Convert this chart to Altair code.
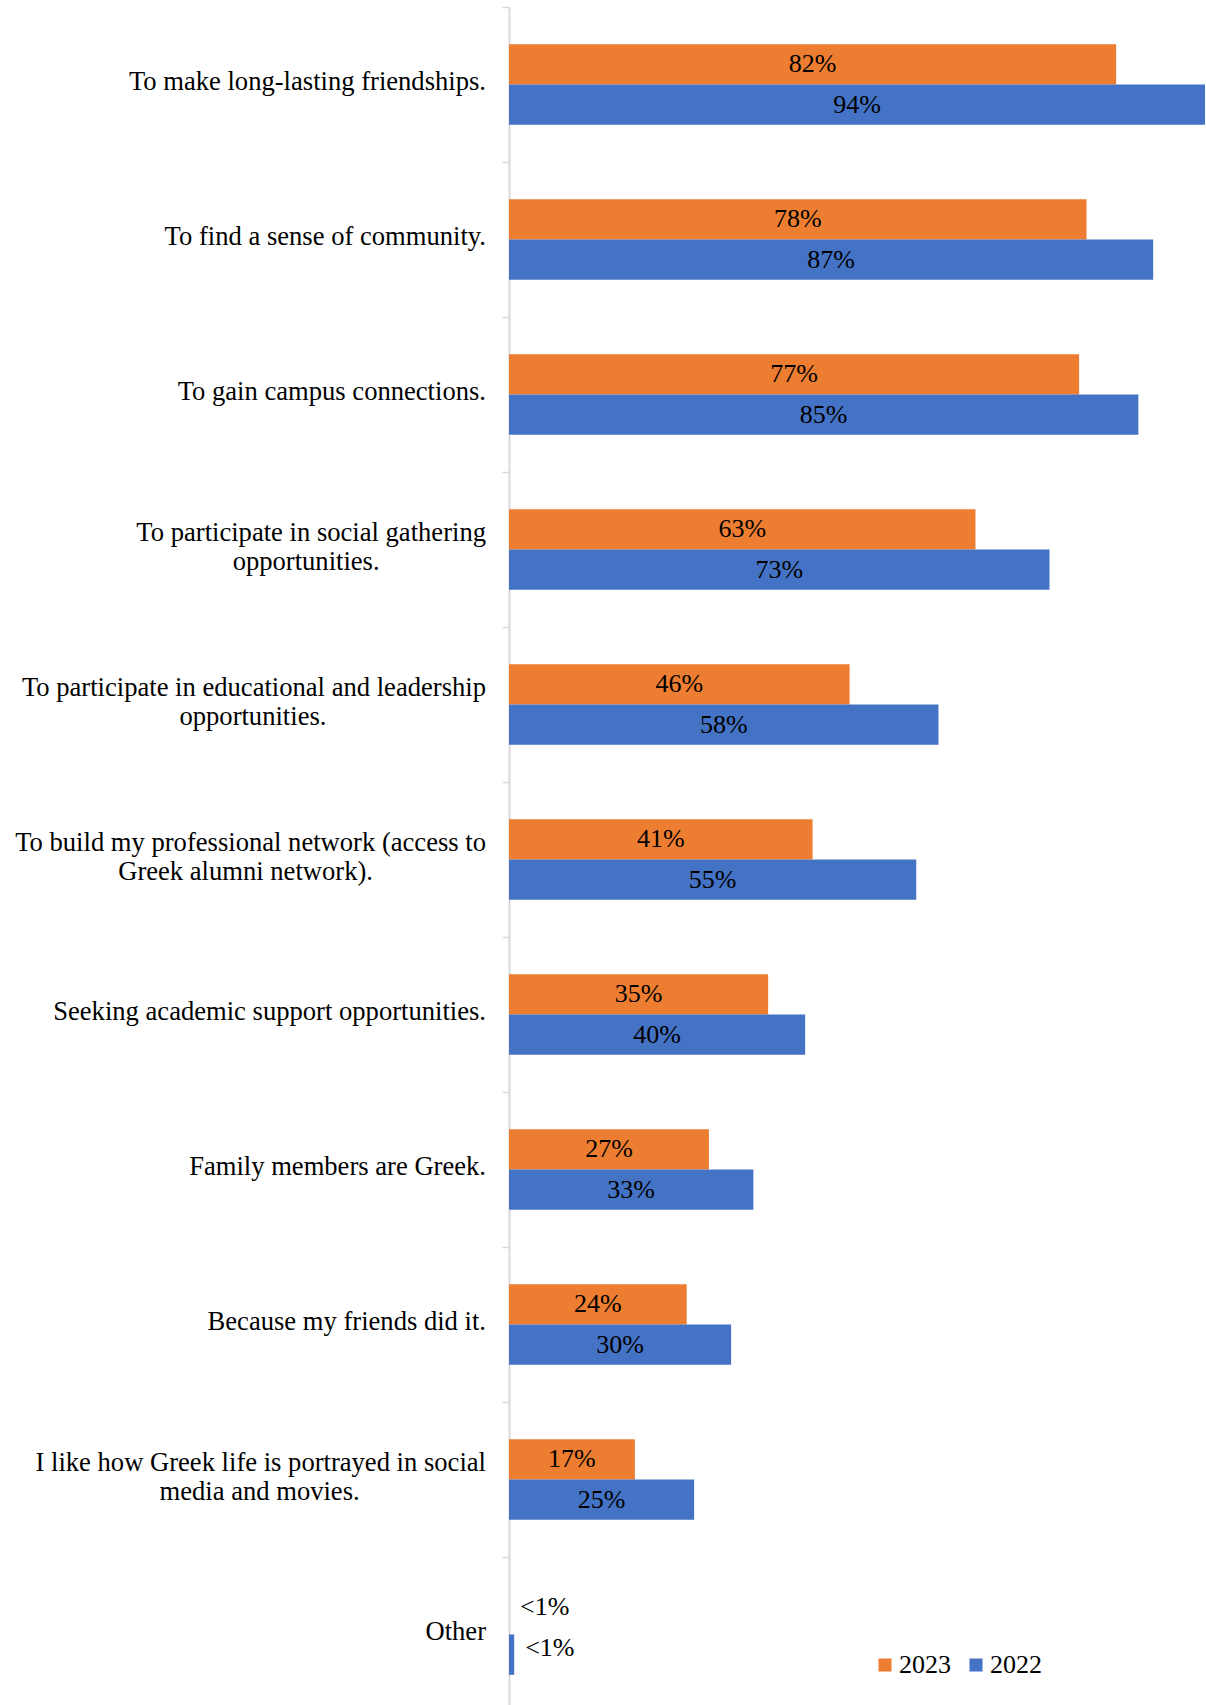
import altair as alt
import pandas as pd

categories = [
    "To make long-lasting friendships.",
    "To find a sense of community.",
    "To gain campus connections.",
    "To participate in social gathering opportunities.",
    "To participate in educational and leadership opportunities.",
    "To build my professional network (access to Greek alumni network).",
    "Seeking academic support opportunities.",
    "Family members are Greek.",
    "Because my friends did it.",
    "I like how Greek life is portrayed in social media and movies.",
    "Other",
]
values_2023 = [82, 78, 77, 63, 46, 41, 35, 27, 24, 17, 0]
values_2022 = [94, 87, 85, 73, 58, 55, 40, 33, 30, 25, 0.7]
labels_2023 = ["82%", "78%", "77%", "63%", "46%", "41%", "35%", "27%", "24%", "17%", "<1%"]
labels_2022 = ["94%", "87%", "85%", "73%", "58%", "55%", "40%", "33%", "30%", "25%", "<1%"]
years = ["2023", "2022"]
colors = ["#ED7D31", "#4472C4"]

# line breaks for the category labels (second line centred under the first)
line_splits = {
    "To participate in social gathering opportunities.": ("To participate in social gathering", "opportunities.", 16),
    "To participate in educational and leadership opportunities.": ("To participate in educational and leadership", "opportunities.", 24),
    "To build my professional network (access to Greek alumni network).": ("To build my professional network (access to", "Greek alumni network).", 17),
    "I like how Greek life is portrayed in social media and movies.": ("I like how Greek life is portrayed in social", "media and movies.", 19),
}

def display(c):
    if c in line_splits:
        a, b, pad = line_splits[c]
        return a + "|" + b + "\u00a0" * pad + "\u200b"
    return c

disp = [display(c) for c in categories]

rows = []
for i, c in enumerate(categories):
    rows.append({"cat": disp[i], "year": "2023", "value": values_2023[i], "label": labels_2023[i], "other": c == "Other"})
    rows.append({"cat": disp[i], "year": "2022", "value": values_2022[i], "label": labels_2022[i], "other": c == "Other"})
df = pd.DataFrame(rows)
cat_df = pd.DataFrame({"cat": disp, "multi": [c in line_splits for c in categories]})

FONT = "Liberation Serif"

y_scale = alt.Scale(paddingInner=0, paddingOuter=0)
y_enc = alt.Y(
    "cat:N",
    sort=disp,
    title=None,
    scale=y_scale,
    axis=alt.Axis(
        labels=False,
        tickBand="extent",
        tickSize=7,
        tickColor="#d9d9d9",
        tickWidth=1.5,
        domainColor="#d9d9d9",
        domainWidth=2,
        grid=False,
    ),
)
yoff_scale = alt.Scale(domain=years, paddingInner=0, paddingOuter=0.923)
x_scale = alt.Scale(domain=[0, 94], nice=False, zero=True)

bars = alt.Chart(df).mark_bar().encode(
    x=alt.X("value:Q", scale=x_scale, axis=None),
    y=y_enc,
    yOffset=alt.YOffset("year:N", sort=years, scale=yoff_scale),
    color=alt.Color(
        "year:N",
        scale=alt.Scale(domain=years, range=colors),
        sort=years,
        legend=alt.Legend(
            title=None,
            orient="none",
            direction="horizontal",
            legendX=363,
            legendY=1645,
            symbolType="square",
            symbolSize=170,
            symbolStrokeWidth=0,
            labelFont=FONT,
            labelFontSize=26,
            labelColor="black",
            columnPadding=12,
            labelOffset=1,
        ),
    ),
)

inside = alt.Chart(df).transform_filter("!datum.other").transform_calculate(
    mid="datum.value / 2"
).mark_text(font=FONT, fontSize=26, color="black", align="center", baseline="middle").encode(
    x=alt.X("mid:Q", scale=x_scale, axis=None),
    y=alt.Y("cat:N", sort=disp),
    yOffset=alt.YOffset("year:N", sort=years),
    text="label:N",
)

outside = alt.Chart(df).transform_filter("datum.other").mark_text(
    font=FONT, fontSize=26, color="black", align="left", baseline="middle", dx=11, dy=-7
).encode(
    x=alt.X("value:Q", scale=x_scale, axis=None),
    y=alt.Y("cat:N", sort=disp),
    yOffset=alt.YOffset("year:N", sort=years),
    text="label:N",
)

cat_single = alt.Chart(cat_df).transform_filter("!datum.multi").mark_text(
    font=FONT, fontSize=26.6, color="black", align="right", baseline="middle", dx=-23, dy=-2.5
).encode(
    x=alt.datum(0, scale=x_scale),
    y=alt.Y("cat:N", sort=disp),
    text="cat:N",
)

cat_multi = alt.Chart(cat_df).transform_filter("datum.multi").mark_text(
    font=FONT, fontSize=26.6, color="black", align="right", baseline="middle",
    dx=-23, dy=-16.5, lineBreak="|", lineHeight=29,
).encode(
    x=alt.datum(0, scale=x_scale),
    y=alt.Y("cat:N", sort=disp),
    text="cat:N",
)

chart = alt.layer(bars, inside, outside, cat_single, cat_multi).properties(
    width=696,
    height=1705,
    autosize=alt.AutoSizeParams(type="none"),
    padding={"left": 509, "top": 7, "right": 1, "bottom": -7},
).configure(background="white").configure_view(stroke=None)

chart.save("out.html", embed_options={"renderer": "svg", "actions": False})
